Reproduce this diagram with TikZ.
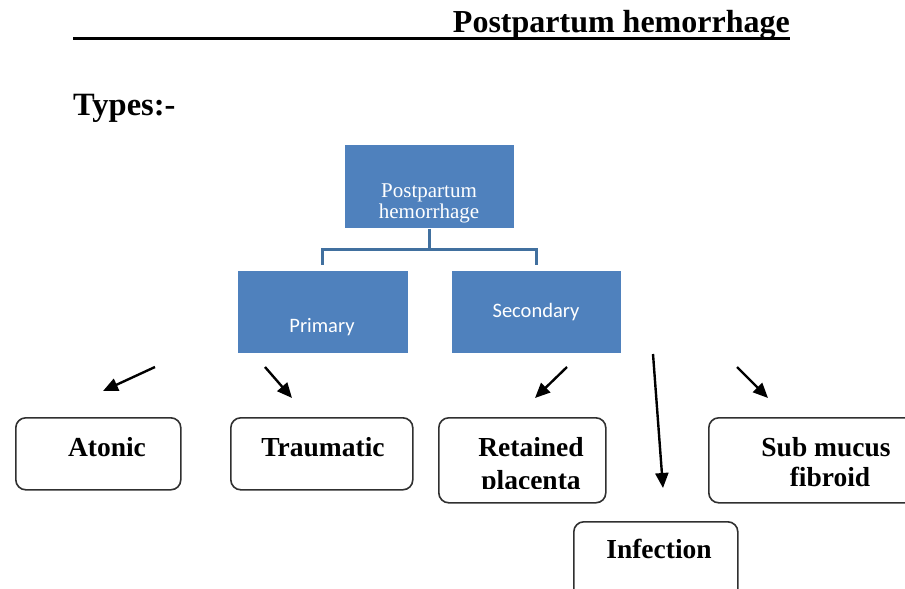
\documentclass[tikz,border=0pt]{standalone}
\usepackage{fontspec}
\setmainfont{Liberation Serif}
\newfontfamily\calib{Carlito}
\usetikzlibrary{arrows.meta}
\definecolor{Office}{HTML}{4F81BD}
\definecolor{OfficeDark}{HTML}{41709F}
\definecolor{Edge}{HTML}{303030}
\tikzset{
  bluebox/.style={fill=Office, draw=white, line width=0.6pt, anchor=north west, inner sep=0pt},
  roundbox/.style={draw=Edge, line width=1.6pt, rounded corners=10pt, anchor=north west, inner sep=0pt},
  whitetxt/.style={text=white, anchor=base, inner sep=0pt},
  boldtxt/.style={font=\fontsize{27.5}{30}\selectfont\bfseries, anchor=base, inner sep=0pt},
  tree/.style={draw=OfficeDark, line width=2.8pt},
  pointer/.style={-{Triangle[length=15pt,width=13pt]}, line width=2.4pt},
}
\begin{document}
\begin{tikzpicture}[x=1pt,y=-1pt]
  \useasboundingbox (0,0) rectangle (905,589);
  \clip (0,0) rectangle (905,589);
  % heading
  \node[font=\fontsize{32}{36}\selectfont\bfseries, anchor=base east, inner sep=0pt] (title) at (790,32) {Postpartum hemorrhage};
  \draw[line width=3pt] (73,38) -- (790,38);
  \node[font=\fontsize{32.5}{36}\selectfont\bfseries, anchor=base west, inner sep=0pt] (types) at (73,115) {Types:-};

  % blue hierarchy
  \node[bluebox, minimum width=170pt, minimum height=84pt] (pph) at (344,144) {};
  \node[whitetxt, font=\fontsize{21}{21}\selectfont] (pph1) at (429,197) {Postpartum};
  \node[whitetxt, font=\fontsize{21}{21}\selectfont] (pph2) at (429,218) {hemorrhage};
  \node[bluebox, minimum width=171pt, minimum height=83pt] (prim) at (237,270) {};
  \node[whitetxt, font=\calib\fontsize{20.5}{22}\selectfont] (primtxt) at (322,332) {Primary};
  \node[bluebox, minimum width=170pt, minimum height=83pt] (sec) at (451,270) {};
  \node[whitetxt, font=\calib\fontsize{20.5}{22}\selectfont] (sectxt) at (536,317) {Secondary};
  \draw[tree] (pph.south) -- ++(0,21) coordinate (fork);
  \draw[tree, shorten >=5pt] (fork) -| (prim.north);
  \draw[tree, shorten >=5pt] (fork) -| (sec.north);

  % types
  \node[roundbox, minimum width=165pt, minimum height=72pt] (atonic) at (15,417) {};
  \node[boldtxt] at (107,456) {Atonic};
  \node[roundbox, minimum width=182pt, minimum height=72pt] (trauma) at (230,417) {};
  \node[boldtxt] at (323,456) {Traumatic};
  \node[roundbox, minimum width=167pt, minimum height=85pt] (retained) at (438,417) {};
  \node[boldtxt] at (531,456) {Retained};
  \begin{scope}
    \clip (440,460) rectangle (603,488);
    \node[boldtxt] at (531,489) {placenta};
  \end{scope}
  \node[roundbox, minimum width=210pt, minimum height=85pt] (fibroid) at (708,417) {};
  \node[boldtxt] at (826,456) {Sub mucus};
  \node[boldtxt] at (830,486) {fibroid};
  \node[roundbox, minimum width=164pt, minimum height=80pt] (infect) at (573,521) {};
  \node[boldtxt] at (659,558) {Infection};

  % loose arrows
  \coordinate (a1) at (155,367); \coordinate (b1) at (103,391);
  \coordinate (a2) at (265,367); \coordinate (b2) at (292,398);
  \coordinate (a3) at (567,367); \coordinate (b3) at (535,398);
  \coordinate (a4) at (653,354); \coordinate (b4) at (663,488);
  \coordinate (a5) at (737,367); \coordinate (b5) at (768,398);
  \foreach \i in {1,...,5} \draw[pointer] (a\i) -- (b\i);
\end{tikzpicture}
\end{document}
